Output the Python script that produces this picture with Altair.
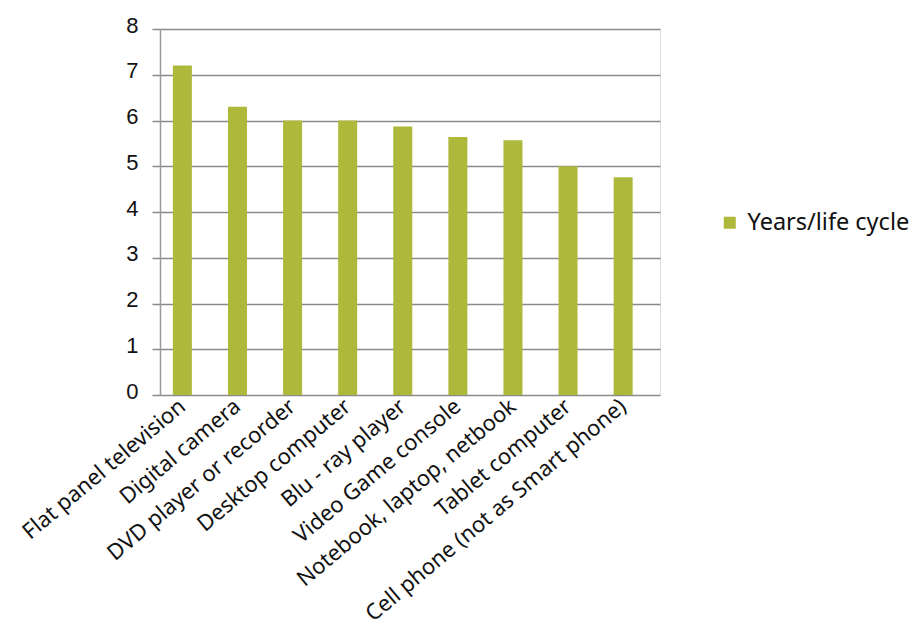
import altair as alt
import pandas as pd

categories = [
    "Flat panel television",
    "Digital camera",
    "DVD player or recorder",
    "Desktop computer",
    "Blu - ray player",
    "Video Game console",
    "Notebook, laptop, netbook",
    "Tablet computer",
    "Cell phone (not as Smart phone)",
]
values = [7.2, 6.3, 6.0, 6.0, 5.87, 5.64, 5.57, 5.0, 4.76]
series_name = "Years/life cycle"

df = pd.DataFrame({"device": categories, "years": values, "series": [series_name] * len(categories)})

bar_color = "#AEB83A"
grid_color = "#8A8A8A"

chart = (
    alt.Chart(df)
    .mark_bar(color=bar_color)
    .encode(
        x=alt.X(
            "device:N",
            sort=categories,
            title=None,
            scale=alt.Scale(paddingInner=0.655, paddingOuter=0.365, align=0.32),
            axis=alt.Axis(
                labelAngle=-40,
                labelAlign="right",
                labelBaseline="middle",
                labelFont="Noto Sans",
                labelFontSize=22,
                labelColor="#111111",
                labelPadding=8,
                ticks=False,
                domain=False,
                labelLimit=500,
            ),
        ),
        y=alt.Y(
            "years:Q",
            title=None,
            scale=alt.Scale(domain=[0, 8], nice=False),
            axis=alt.Axis(
                values=[0, 1, 2, 3, 4, 5, 6, 7, 8],
                labelFont="Liberation Sans",
                labelFontSize=22,
                labelColor="#111111",
                labelPadding=14,
                labelOffset=-4,
                tickSize=8,
                tickColor=grid_color,
                tickWidth=1.5,
                domainColor="#9A9A9A",
                domainWidth=1.5,
                gridColor=grid_color,
                gridWidth=1.5,
            ),
        ),
        color=alt.Color(
            "series:N",
            scale=alt.Scale(domain=[series_name], range=[bar_color]),
            legend=alt.Legend(
                title=None,
                orient="none",
                legendX=558,
                legendY=182,
                symbolType="square",
                symbolSize=144,
                symbolStrokeWidth=0,
                labelFont="Noto Sans",
                labelFontSize=23.5,
                labelLimit=300,
                labelColor="#111111",
                labelOffset=6,
                padding=0,
            ),
        ),
    )
    .properties(
        width=500,
        height=366,
        autosize=alt.AutoSizeParams(type="none"),
        padding={"left": 160, "top": 29, "right": 253, "bottom": 232},
    )
    .configure_view(stroke=None)
    .configure(background="white")
)

chart.save("out.html", embed_options={"renderer": "svg", "actions": False})
